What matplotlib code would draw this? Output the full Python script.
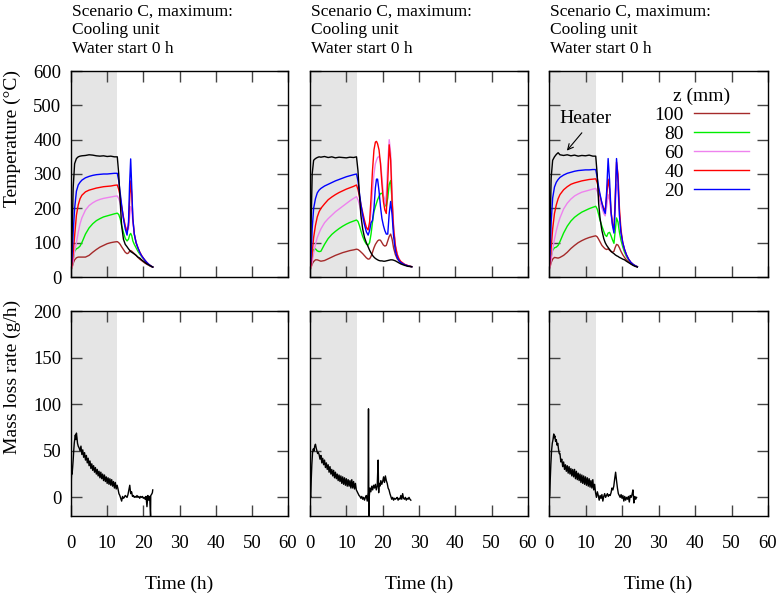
import matplotlib
matplotlib.use('Agg')
import matplotlib.pyplot as plt

plt.rcParams['font.family'] = ['Liberation Serif', 'DejaVu Serif']

# ---------------- data ----------------
title_lines = ["Scenario C, maximum:", "Cooling unit", "Water start 0 h"]
depth_labels = ["100", "80", "60", "40", "20"]
series_colors = ["#a52a2a", "#00ee00", "#ee82ee", "#ff0000", "#0000ff"]
heater_color = "#000000"
heater_end = 12.8
x_ticks = [0, 10, 20, 30, 40, 50, 60]
temp_ticks = [0, 100, 200, 300, 400, 500, 600]
mass_ticks = [0, 50, 100, 150, 200]

# Panel 1 temperatures
t1 = [0, 0.3, 0.6, 1.0, 1.5, 2.0, 2.5, 3.0, 4.0, 5.0, 6.0, 7.0, 8.0, 9.0, 10, 11, 12, 12.8,
      13.2, 13.6, 14.0, 14.5, 15.0, 15.5, 15.9, 16.2, 16.5, 16.8, 17.1, 17.5, 18.0, 18.5,
      19, 19.5, 20, 20.5, 21, 21.5, 22, 22.6]
p1_heater = [25, 120, 260, 330, 345, 350, 352, 353, 354, 356, 355, 353, 352, 353, 351, 352, 350, 350,
             300, 220, 150, 110, 95, 88, 82, 78, 74, 72, 70, 67, 63, 58, 55, 50, 46, 42, 38, 35, 32, 29]
p1_z20 = [20, 60, 130, 200, 250, 268, 276, 282, 289, 293, 296, 298, 299, 300, 300, 301, 302, 302,
          280, 245, 210, 170, 140, 122, 160, 270, 344, 260, 170, 125, 100, 85, 72, 62, 55, 48, 42, 37, 33, 29]
p1_z40 = [20, 35, 70, 120, 180, 210, 228, 238, 248, 253, 256, 259, 261, 263, 264, 265, 267, 268,
          255, 235, 205, 175, 148, 132, 150, 220, 280, 240, 170, 125, 100, 85, 73, 63, 55, 48, 42, 37, 33, 29]
p1_z60 = [20, 28, 45, 75, 100, 130, 155, 172, 195, 208, 216, 222, 226, 229, 231, 233, 235, 236,
          228, 215, 195, 170, 148, 135, 140, 175, 205, 195, 160, 125, 100, 84, 72, 62, 54, 47, 41, 36, 32, 29]
p1_z80 = [20, 30, 50, 75, 82, 85, 90, 100, 125, 143, 155, 164, 170, 175, 178, 181, 184, 186,
          182, 170, 150, 130, 112, 105, 110, 122, 127, 120, 105, 95, 85, 75, 67, 60, 53, 47, 41, 36, 32, 29]
p1_z100 = [20, 28, 40, 50, 56, 58, 58, 58, 58, 63, 72, 80, 87, 92, 97, 100, 102, 103,
           100, 95, 88, 80, 72, 68, 70, 75, 77, 75, 72, 68, 63, 57, 52, 48, 44, 40, 37, 34, 31, 29]

# Panel 2 temperatures
t2 = [0, 0.3, 0.6, 1.0, 1.5, 2, 2.5, 3, 4, 5, 6, 7, 8, 9, 10, 11, 12, 12.8, 13.2, 13.6, 14.0, 14.5,
      15.0, 15.5, 16.0, 16.4, 16.8, 17.2, 17.6, 18.0, 18.3, 18.6, 19.0, 19.4, 19.8, 20.2, 20.6, 21.0,
      21.4, 21.8, 22.2, 22.6, 23.0, 23.5, 24.0, 24.5, 25, 26, 27, 28]
p2_heater = [25, 150, 300, 340, 345, 348, 350, 349, 351, 348, 350, 347, 349, 348, 347, 349, 348, 350,
             310, 240, 180, 140, 115, 100, 88, 78, 70, 63, 58, 54, 52, 50, 48, 47, 47, 46, 46, 47,
             48, 49, 50, 50, 49, 47, 44, 41, 38, 34, 31, 30]
p2_z20 = [20, 60, 140, 200, 228, 245, 253, 258, 265, 270, 275, 280, 284, 288, 292, 295, 298, 300,
          280, 245, 212, 180, 152, 132, 122, 135, 158, 165, 200, 260, 285, 285, 250, 205, 170, 150,
          135, 125, 125, 185, 220, 180, 120, 75, 57, 47, 42, 36, 32, 30]
p2_z40 = [20, 35, 70, 115, 150, 175, 190, 200, 213, 225, 233, 240, 246, 251, 256, 260, 264, 268,
          255, 235, 212, 188, 165, 145, 137, 160, 230, 310, 370, 393, 395, 388, 370, 330, 270, 220,
          195, 185, 280, 385, 340, 220, 140, 90, 65, 52, 45, 37, 33, 30]
p2_z60 = [20, 28, 45, 70, 95, 115, 128, 140, 158, 170, 180, 190, 198, 206, 214, 222, 229, 234,
          225, 210, 192, 172, 155, 142, 138, 150, 190, 250, 300, 330, 340, 348, 352, 335, 290, 240,
          210, 240, 330, 400, 360, 240, 150, 95, 68, 53, 45, 37, 33, 30]
p2_z80 = [20, 30, 55, 80, 82, 76, 74, 75, 95, 112, 124, 133, 141, 148, 154, 159, 163, 166,
          162, 150, 135, 118, 105, 96, 93, 100, 125, 160, 190, 205, 215, 225, 235, 243, 244, 235,
          215, 205, 230, 270, 281, 220, 140, 88, 62, 50, 43, 36, 32, 30]
p2_z100 = [20, 28, 38, 45, 50, 50, 48, 46, 48, 53, 58, 63, 67, 71, 74, 77, 79, 81,
           80, 77, 73, 68, 62, 56, 52, 53, 60, 72, 85, 95, 100, 105, 108, 107, 100, 93,
           90, 92, 105, 118, 125, 110, 85, 65, 53, 47, 42, 36, 32, 30]

# Panel 3 temperatures
t3 = [0, 0.3, 0.6, 1.0, 1.5, 2, 2.5, 3, 4, 5, 6, 7, 8, 9, 10, 11, 12, 12.8, 13.2, 13.6, 14.0, 14.5,
      15.0, 15.4, 15.8, 16.2, 16.6, 17.0, 17.4, 17.8, 18.1, 18.5, 18.9, 19.3, 19.7, 20.2, 20.7, 21.2,
      21.8, 22.4, 23.0, 23.6, 24.2]
p3_heater = [25, 150, 290, 340, 350, 357, 362, 356, 354, 356, 353, 355, 352, 354, 353, 355, 352, 352,
             300, 215, 170, 135, 112, 100, 92, 86, 80, 75, 71, 68, 65, 62, 60, 57, 55, 52, 50, 46,
             42, 38, 34, 31, 29]
p3_z20 = [20, 70, 160, 230, 262, 276, 284, 290, 297, 302, 305, 308, 310, 311, 312, 312, 313, 313,
          290, 262, 240, 215, 195, 185, 250, 345, 280, 190, 150, 128, 200, 345, 280, 180, 130, 100,
          80, 65, 52, 43, 37, 33, 30]
p3_z40 = [20, 40, 85, 140, 185, 210, 228, 240, 254, 263, 270, 274, 277, 280, 282, 284, 285, 286,
          275, 255, 235, 215, 200, 195, 235, 285, 255, 190, 155, 138, 220, 335, 300, 200, 140, 100,
          80, 65, 52, 43, 37, 33, 30]
p3_z60 = [20, 30, 50, 80, 110, 135, 155, 172, 198, 215, 227, 236, 242, 247, 250, 253, 256, 258,
          250, 235, 218, 200, 185, 178, 205, 240, 225, 180, 150, 135, 195, 270, 250, 180, 130, 100,
          80, 65, 52, 43, 37, 33, 30]
p3_z80 = [20, 35, 60, 78, 85, 87, 92, 103, 128, 148, 163, 174, 182, 189, 194, 199, 203, 206,
          198, 182, 165, 148, 133, 122, 118, 128, 130, 120, 108, 98, 130, 172, 160, 130, 108, 88,
          72, 60, 50, 42, 37, 33, 30]
p3_z100 = [20, 30, 42, 52, 57, 56, 55, 57, 63, 72, 83, 92, 100, 106, 111, 115, 118, 120,
           117, 110, 102, 92, 86, 82, 80, 82, 78, 74, 72, 75, 85, 95, 93, 85, 75, 65,
           57, 50, 44, 39, 35, 32, 30]

# Mass loss rates
m1_t = [0, 0.1, 0.2, 0.3, 0.45, 0.6, 0.75, 0.9, 1.05, 1.2, 1.35, 1.5, 1.65, 1.8, 2.0, 2.25, 2.5, 2.75,
        3.0, 3.25, 3.5, 3.75, 4.0, 4.25, 4.5, 4.75, 5.0, 5.25, 5.5, 5.75, 6.0, 6.25, 6.5, 6.75,
        7.0, 7.25, 7.5, 7.75, 8.0, 8.25, 8.5, 8.75, 9.0, 9.25, 9.5, 9.75, 10.0, 10.25, 10.5, 10.75,
        11.0, 11.25, 11.5, 11.75, 12.0, 12.25, 12.5, 12.75, 13.0, 13.25, 13.5, 13.75, 14.0, 14.25,
        14.5, 14.75, 15.0, 15.25, 15.5, 15.75, 16.0, 16.25, 16.5, 16.75, 17.0, 17.25, 17.5, 17.75,
        18.0, 18.25, 18.5, 18.75, 19.0, 19.25, 19.5, 19.75, 20.0, 20.25, 20.5, 20.75, 21.0, 21.25,
        21.5, 21.75, 22.0, 22.05, 22.25, 22.5, 22.6]
m1_v = [3, 20, 28, 25, 32, 40, 50, 58, 63, 67, 62, 69, 64, 58, 55, 53, 50, 55,
        46, 51, 43, 48, 40, 45, 37, 42, 34, 39, 31, 36, 29, 34, 27, 32,
        25, 30, 23, 28, 21, 27, 20, 25, 18, 24, 17, 22, 15, 21, 14, 20,
        13, 19, 12, 17, 10, 16, 9, 13, 9, 4, 2, -1, -4, 1,
        -1, 0, 2, 1, 0, 3, 8, 13, 4, 6, 1, 2, 0, 1,
        0, 2, 0, 1, -1, 1, 0, 1, -1, 0, -2, 1, -10, 2,
        -3, 1, -20, 2, 3, 5, 8]

m2_t = [0, 0.1, 0.2, 0.35, 0.5, 0.7, 0.9, 1.1, 1.3, 1.5, 1.7, 1.9, 2.1, 2.3, 2.5, 2.75, 3.0, 3.25,
        3.5, 3.75, 4.0, 4.25, 4.5, 4.75, 5.0, 5.25, 5.5, 5.75, 6.0, 6.25, 6.5, 6.75, 7.0, 7.25,
        7.5, 7.75, 8.0, 8.25, 8.5, 8.75, 9.0, 9.25, 9.5, 9.75, 10.0, 10.25, 10.5, 10.75, 11.0,
        11.25, 11.5, 11.75, 12.0, 12.25, 12.5, 12.75, 13.0, 13.25, 13.5, 13.75, 14.0, 14.25, 14.5,
        14.75, 15.0, 15.25, 15.5, 15.75, 16.0, 16.1, 16.2, 16.3, 16.5, 16.75, 17.0, 17.25, 17.5,
        17.75, 18.0, 18.25, 18.5, 18.75, 18.9, 19.0, 19.25, 19.5, 19.75, 20.0, 20.25, 20.5, 20.75,
        21.0, 21.25, 21.5, 21.75, 22.0, 22.25, 22.5, 22.75, 23.0, 23.25, 23.5, 23.75, 24.0, 24.25,
        24.5, 24.75, 25.0, 25.25, 25.5, 25.75, 26.0, 26.25, 26.5, 26.75, 27.0, 27.25, 27.5, 27.75]
m2_v = [12, 2, 0, 20, 35, 48, 52, 50, 55, 57, 53, 50, 47, 48, 46, 41, 45, 37,
        42, 35, 40, 32, 37, 30, 35, 27, 33, 25, 30, 23, 29, 21, 27, 20,
        25, 18, 24, 17, 23, 15, 22, 14, 21, 13, 20, 12, 19, 12, 18,
        10, 19, 10, 17, 9, 15, 8, 6, 4, 2, 1, -1, 1, -2,
        0, -3, 0, 2, -4, 5, 95, -20, 0, 10, 6, 12, 8, 13,
        10, 14, 8, 12, 40, 5, 15, 12, 18, 14, 17, 22, 16, 23,
        18, 15, 10, 8, 4, 1, -2, 0, -3, -1, -2, -1, 0, -3,
        -1, -2, 2, -2, 4, -1, -2, 0, -3, -1, -2, 0, -2, -3]

m3_t = [0, 0.05, 0.1, 0.2, 0.35, 0.5, 0.7, 0.9, 1.1, 1.3, 1.45, 1.6, 1.8, 2.0, 2.2, 2.4, 2.6, 2.8,
        3.0, 3.25, 3.5, 3.75, 4.0, 4.25, 4.5, 4.75, 5.0, 5.25, 5.5, 5.75, 6.0, 6.25, 6.5, 6.75,
        7.0, 7.25, 7.5, 7.75, 8.0, 8.25, 8.5, 8.75, 9.0, 9.25, 9.5, 9.75, 10.0, 10.25, 10.5, 10.75,
        11.0, 11.25, 11.5, 11.75, 12.0, 12.25, 12.5, 12.75, 13.0, 13.25, 13.5, 13.75, 14.0, 14.25,
        14.5, 14.75, 15.0, 15.25, 15.5, 15.75, 16.0, 16.25, 16.5, 16.75, 17.0, 17.25, 17.5, 17.75,
        18.0, 18.25, 18.5, 18.75, 19.0, 19.25, 19.5, 19.75, 20.0, 20.25, 20.5, 20.75, 21.0, 21.25,
        21.5, 21.75, 22.0, 22.25, 22.5, 22.75, 23.0, 23.25, 23.5, 23.75, 24.0]
m3_v = [85, 40, 0, 2, 20, 35, 50, 58, 62, 68, 64, 66, 60, 62, 56, 58, 52, 47,
        47, 38, 41, 33, 38, 30, 35, 28, 34, 26, 33, 25, 31, 23, 30, 22,
        30, 20, 28, 19, 26, 18, 25, 16, 24, 15, 23, 14, 22, 13, 21, 12,
        20, 11, 18, 10, 19, 8, 14, 5, 0, 6, 2, -3, 2, -1,
        3, -4, 1, 4, 0, 2, 4, 1, 3, 2, 5, 10, 8, 12,
        20, 27, 18, 10, 4, 2, 0, 3, -1, 2, -4, 1, -3, 0,
        -2, 1, -5, 2, 0, 3, 8, -6, 1, -2, 0]

panels = [
    dict(t=t1, heater=p1_heater, z=[p1_z100, p1_z80, p1_z60, p1_z40, p1_z20], mt=m1_t, mv=m1_v),
    dict(t=t2, heater=p2_heater, z=[p2_z100, p2_z80, p2_z60, p2_z40, p2_z20], mt=m2_t, mv=m2_v),
    dict(t=t3, heater=p3_heater, z=[p3_z100, p3_z80, p3_z60, p3_z40, p3_z20], mt=m3_t, mv=m3_v),
]

# ---------------- layout ----------------
W, H = 783, 595
fig = plt.figure(figsize=(W / 100, H / 100), dpi=100)


def rect(x0, y0, x1, y1):
    return [x0 / W, 1 - y1 / H, (x1 - x0) / W, (y1 - y0) / H]


col_x = [(71, 288), (310, 528), (549, 768)]
top_y = (71, 277)
bot_y = (311, 516)

tick_fs = 13.5
label_fs = 14


def style(ax, show_x, show_y):
    ax.set_xlim(0, 60)
    ax.set_xticks(x_ticks)
    ax.tick_params(direction='in', top=True, right=True, length=8, width=1,
                   color='#444444', labelsize=tick_fs)
    ax.tick_params(axis='x', pad=14, labelbottom=show_x)
    ax.tick_params(axis='y', pad=7, labelleft=show_y)
    for s in ax.spines.values():
        s.set_linewidth(1.0)
        s.set_color('black')
    ax.axvspan(0, heater_end, color='#e5e5e5', lw=0, zorder=0)


for i, p in enumerate(panels):
    x0, x1 = col_x[i]
    axt = fig.add_axes(rect(x0, top_y[0], x1, top_y[1]))
    axb = fig.add_axes(rect(x0, bot_y[0], x1, bot_y[1]))
    style(axt, False, i == 0)
    style(axb, True, i == 0)
    axt.set_ylim(0, 600)
    axt.set_yticks(temp_ticks)
    axb.set_ylim(-20, 200)
    axb.set_yticks(mass_ticks)

    handles = []
    for vals, col, lab in zip(p['z'], series_colors, depth_labels):
        h, = axt.plot(p['t'], vals, color=col, lw=1.0, label=lab)
        handles.append(h)
    axt.plot(p['t'], p['heater'], color=heater_color, lw=1.0)
    axb.plot(p['mt'], p['mv'], color='black', lw=1.0)

    # titles
    for k, line in enumerate(title_lines):
        fig.text((x0 + 1) / W, 1 - (12 + 18.5 * k) / H, line, fontsize=12.5,
                 ha='left', va='center')
    # x labels
    fig.text((x0 + x1) / 2 / W, 1 - 584 / H, "Time (h)", fontsize=label_fs,
             ha='center', va='center')

    if i == 2:
        leg = axt.legend(handles=handles, title="z (mm)", loc='upper right',
                         bbox_to_anchor=((749 - x0) / (x1 - x0), (277 - 88) / 206),
                         frameon=False, markerfirst=False, fontsize=14, title_fontsize=14,
                         handlelength=2.85, handletextpad=0.5, labelspacing=0.07,
                         borderpad=0, borderaxespad=0)
        axt.annotate("", xy=(4.9, 368), xytext=(9.0, 420),
                     arrowprops=dict(arrowstyle='->', color='black', lw=0.8,
                                     shrinkA=0, shrinkB=0))
        axt.text(9.9, 462, "Heater", fontsize=14, ha='center', va='center')

fig.text(12 / W, 1 - 138 / H, "Temperature (°C)", fontsize=label_fs, rotation=90,
         ha='center', va='center')
fig.text(12 / W, 1 - 377 / H, "Mass loss rate (g/h)", fontsize=label_fs, rotation=90,
         ha='center', va='center')

fig.savefig("out.png", dpi=100)
